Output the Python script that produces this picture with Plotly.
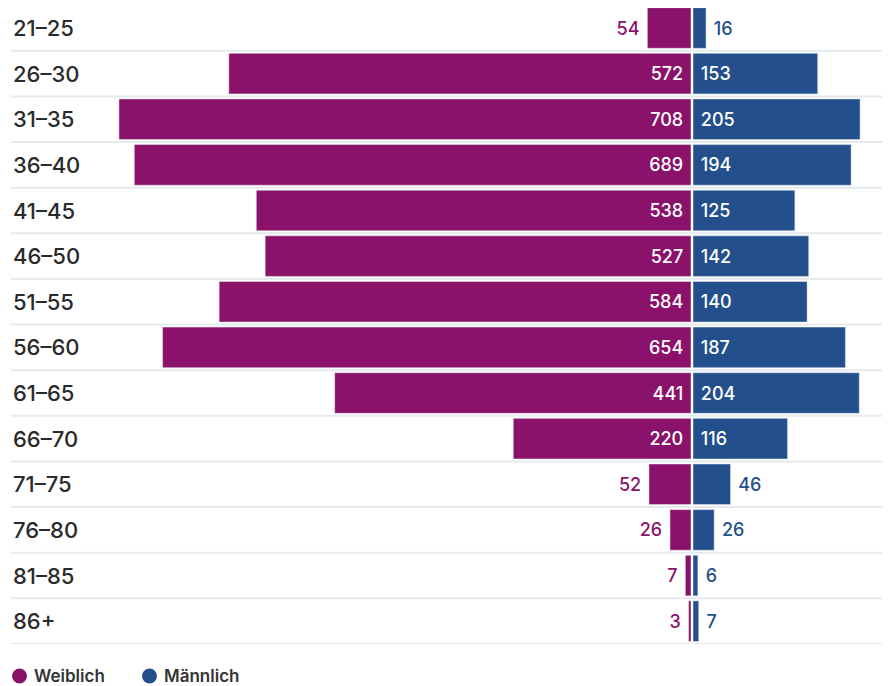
import plotly.graph_objects as go

age_groups = ["21–25", "26–30", "31–35", "36–40", "41–45", "46–50", "51–55",
              "56–60", "61–65", "66–70", "71–75", "76–80", "81–85", "86+"]
female = [54, 572, 708, 689, 538, 527, 584, 654, 441, 220, 52, 26, 7, 3]
male = [16, 153, 205, 194, 125, 142, 140, 187, 204, 116, 46, 26, 6, 7]
legend_labels = ["Weiblich", "Männlich"]

PURPLE = "#8B126B"
BLUE = "#23508C"
# page body has an 8px margin, so the figure is drawn 8px smaller and offset
OFF = 8
W, H = 890 - OFF, 686 - OFF
FONT = "Inter, Roboto, 'Noto Sans', sans-serif"

def positions(vals):
    return ["inside" if v >= 100 else "outside" for v in vals]

fig = go.Figure()
fig.add_trace(go.Bar(
    y=age_groups, x=female, orientation="h", marker_color=PURPLE,
    xaxis="x", yaxis="y", showlegend=False,
    texttemplate="%{x}\u00a0", textposition=positions(female),
    insidetextanchor="start", cliponaxis=False,
    outsidetextfont=dict(family=FONT, size=18, color=PURPLE, weight=500),
    insidetextfont=dict(family=FONT, size=18, color="white", weight=500),
    hoverinfo="skip"))
fig.add_trace(go.Bar(
    y=age_groups, x=male, orientation="h", marker_color=BLUE,
    xaxis="x2", yaxis="y", showlegend=False,
    texttemplate="\u00a0%{x}", textposition=positions(male),
    insidetextanchor="start", cliponaxis=False,
    outsidetextfont=dict(family=FONT, size=18, color=BLUE, weight=500),
    insidetextfont=dict(family=FONT, size=18, color="white", weight=500),
    hoverinfo="skip"))

top, bottom = 0, 42
plot_h = H - top - bottom
row_px = (644 - 28) / 13.5  # approx px per row in reference
y_top = -(28 - OFF) / row_px

shapes = []
for i in range(len(age_groups)):
    shapes.append(dict(type="line", xref="paper", yref="y",
                       x0=(11 - OFF) / W, x1=1, y0=i + 0.5, y1=i + 0.5,
                       line=dict(color="#E6EAEE", width=2), layer="below"))

annotations = []
for g in age_groups:
    annotations.append(dict(xref="paper", yref="y", x=(11 - OFF) / W, y=g,
                            text=g, showarrow=False, xanchor="left", yanchor="middle",
                            font=dict(family=FONT, size=22, color="#2A2A2A", weight=500)))

leg_y = (H - bottom - (676 - OFF)) / plot_h
for (lx, tx), lab, col in zip([(19.5, 32), (149.5, 162)], legend_labels, [PURPLE, BLUE]):
    shapes.append(dict(type="circle", xref="paper", yref="paper",
                       xsizemode="pixel", ysizemode="pixel",
                       xanchor=(lx - OFF) / W, yanchor=leg_y,
                       x0=-7.5, x1=7.5, y0=-7.5, y1=7.5,
                       fillcolor=col, line=dict(width=0)))
    annotations.append(dict(xref="paper", yref="paper", x=(tx - OFF) / W, y=leg_y,
                            text=lab, showarrow=False, xanchor="left", yanchor="middle",
                            font=dict(family=FONT, size=17, color="#333333", weight=600)))

fig.update_layout(
    width=W, height=H,
    margin=dict(l=0, r=0, t=top, b=bottom, pad=0),
    paper_bgcolor="white", plot_bgcolor="white",
    bargap=0.11,
    xaxis=dict(domain=[0, (691 - OFF) / W], range=[(691 - OFF) / 0.808, 0],
               visible=False, fixedrange=True),
    xaxis2=dict(domain=[(693 - OFF) / W, 1], range=[0, 197 / 0.815],
                visible=False, fixedrange=True),
    yaxis=dict(categoryorder="array", categoryarray=age_groups,
               range=[13.5, y_top], visible=False, fixedrange=True),
    shapes=shapes, annotations=annotations,
)

fig.write_html("out.html")
